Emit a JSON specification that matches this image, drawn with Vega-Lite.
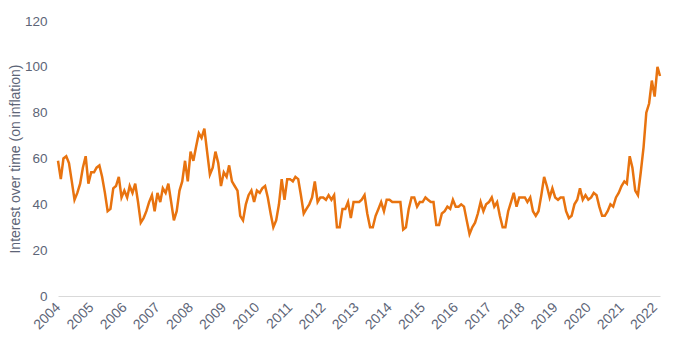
{
  "$schema": "https://vega.github.io/schema/vega-lite/v6.json",
  "width": 602,
  "height": 275,
  "autosize": {"type": "none"},
  "padding": {"left": 58, "top": 21, "right": 20, "bottom": 51},
  "background": "white",
  "config": {"view": {"stroke": null}, "font": "Liberation Sans"},
  "data": {"values": [
    {"date":"2004-01-01","v":59},{"date":"2004-02-01","v":51},{"date":"2004-03-01","v":60},{"date":"2004-04-01","v":61},{"date":"2004-05-01","v":58},{"date":"2004-06-01","v":50},{"date":"2004-07-01","v":42},{"date":"2004-08-01","v":45},{"date":"2004-09-01","v":49},{"date":"2004-10-01","v":56},{"date":"2004-11-01","v":61},{"date":"2004-12-01","v":49},
    {"date":"2005-01-01","v":54},{"date":"2005-02-01","v":54},{"date":"2005-03-01","v":56},{"date":"2005-04-01","v":57},{"date":"2005-05-01","v":52},{"date":"2005-06-01","v":45},{"date":"2005-07-01","v":37},{"date":"2005-08-01","v":38},{"date":"2005-09-01","v":47},{"date":"2005-10-01","v":48},{"date":"2005-11-01","v":52},{"date":"2005-12-01","v":43},
    {"date":"2006-01-01","v":46},{"date":"2006-02-01","v":43},{"date":"2006-03-01","v":48},{"date":"2006-04-01","v":45},{"date":"2006-05-01","v":49},{"date":"2006-06-01","v":41},{"date":"2006-07-01","v":32},{"date":"2006-08-01","v":34},{"date":"2006-09-01","v":37},{"date":"2006-10-01","v":41},{"date":"2006-11-01","v":44},{"date":"2006-12-01","v":37},
    {"date":"2007-01-01","v":45},{"date":"2007-02-01","v":41},{"date":"2007-03-01","v":47},{"date":"2007-04-01","v":45},{"date":"2007-05-01","v":49},{"date":"2007-06-01","v":41},{"date":"2007-07-01","v":33},{"date":"2007-08-01","v":37},{"date":"2007-09-01","v":46},{"date":"2007-10-01","v":50},{"date":"2007-11-01","v":59},{"date":"2007-12-01","v":50},
    {"date":"2008-01-01","v":63},{"date":"2008-02-01","v":59},{"date":"2008-03-01","v":65},{"date":"2008-04-01","v":71},{"date":"2008-05-01","v":69},{"date":"2008-06-01","v":73},{"date":"2008-07-01","v":63},{"date":"2008-08-01","v":53},{"date":"2008-09-01","v":56},{"date":"2008-10-01","v":63},{"date":"2008-11-01","v":58},{"date":"2008-12-01","v":48},
    {"date":"2009-01-01","v":54},{"date":"2009-02-01","v":52},{"date":"2009-03-01","v":57},{"date":"2009-04-01","v":50},{"date":"2009-05-01","v":48},{"date":"2009-06-01","v":46},{"date":"2009-07-01","v":35},{"date":"2009-08-01","v":33},{"date":"2009-09-01","v":40},{"date":"2009-10-01","v":44},{"date":"2009-11-01","v":46},{"date":"2009-12-01","v":41},
    {"date":"2010-01-01","v":46},{"date":"2010-02-01","v":45},{"date":"2010-03-01","v":47},{"date":"2010-04-01","v":48},{"date":"2010-05-01","v":43},{"date":"2010-06-01","v":36},{"date":"2010-07-01","v":30},{"date":"2010-08-01","v":33},{"date":"2010-09-01","v":40},{"date":"2010-10-01","v":51},{"date":"2010-11-01","v":42},{"date":"2010-12-01","v":51},
    {"date":"2011-01-01","v":51},{"date":"2011-02-01","v":50},{"date":"2011-03-01","v":52},{"date":"2011-04-01","v":51},{"date":"2011-05-01","v":44},{"date":"2011-06-01","v":36},{"date":"2011-07-01","v":38},{"date":"2011-08-01","v":40},{"date":"2011-09-01","v":43},{"date":"2011-10-01","v":50},{"date":"2011-11-01","v":41},{"date":"2011-12-01","v":43},
    {"date":"2012-01-01","v":43},{"date":"2012-02-01","v":42},{"date":"2012-03-01","v":44},{"date":"2012-04-01","v":42},{"date":"2012-05-01","v":44},{"date":"2012-06-01","v":30},{"date":"2012-07-01","v":30},{"date":"2012-08-01","v":38},{"date":"2012-09-01","v":38},{"date":"2012-10-01","v":41},{"date":"2012-11-01","v":34},{"date":"2012-12-01","v":41},
    {"date":"2013-01-01","v":41},{"date":"2013-02-01","v":41},{"date":"2013-03-01","v":42},{"date":"2013-04-01","v":44},{"date":"2013-05-01","v":36},{"date":"2013-06-01","v":30},{"date":"2013-07-01","v":30},{"date":"2013-08-01","v":35},{"date":"2013-09-01","v":38},{"date":"2013-10-01","v":41},{"date":"2013-11-01","v":37},{"date":"2013-12-01","v":42},
    {"date":"2014-01-01","v":42},{"date":"2014-02-01","v":41},{"date":"2014-03-01","v":41},{"date":"2014-04-01","v":41},{"date":"2014-05-01","v":41},{"date":"2014-06-01","v":29},{"date":"2014-07-01","v":30},{"date":"2014-08-01","v":38},{"date":"2014-09-01","v":43},{"date":"2014-10-01","v":43},{"date":"2014-11-01","v":39},{"date":"2014-12-01","v":41},
    {"date":"2015-01-01","v":41},{"date":"2015-02-01","v":43},{"date":"2015-03-01","v":42},{"date":"2015-04-01","v":41},{"date":"2015-05-01","v":41},{"date":"2015-06-01","v":31},{"date":"2015-07-01","v":31},{"date":"2015-08-01","v":36},{"date":"2015-09-01","v":37},{"date":"2015-10-01","v":39},{"date":"2015-11-01","v":38},{"date":"2015-12-01","v":42},
    {"date":"2016-01-01","v":39},{"date":"2016-02-01","v":39},{"date":"2016-03-01","v":40},{"date":"2016-04-01","v":39},{"date":"2016-05-01","v":33},{"date":"2016-06-01","v":27},{"date":"2016-07-01","v":30},{"date":"2016-08-01","v":32},{"date":"2016-09-01","v":36},{"date":"2016-10-01","v":41},{"date":"2016-11-01","v":37},{"date":"2016-12-01","v":40},
    {"date":"2017-01-01","v":41},{"date":"2017-02-01","v":43},{"date":"2017-03-01","v":39},{"date":"2017-04-01","v":41},{"date":"2017-05-01","v":35},{"date":"2017-06-01","v":30},{"date":"2017-07-01","v":30},{"date":"2017-08-01","v":37},{"date":"2017-09-01","v":41},{"date":"2017-10-01","v":45},{"date":"2017-11-01","v":39},{"date":"2017-12-01","v":43},
    {"date":"2018-01-01","v":43},{"date":"2018-02-01","v":43},{"date":"2018-03-01","v":41},{"date":"2018-04-01","v":43},{"date":"2018-05-01","v":37},{"date":"2018-06-01","v":35},{"date":"2018-07-01","v":37},{"date":"2018-08-01","v":44},{"date":"2018-09-01","v":52},{"date":"2018-10-01","v":48},{"date":"2018-11-01","v":43},{"date":"2018-12-01","v":47},
    {"date":"2019-01-01","v":43},{"date":"2019-02-01","v":42},{"date":"2019-03-01","v":43},{"date":"2019-04-01","v":43},{"date":"2019-05-01","v":37},{"date":"2019-06-01","v":34},{"date":"2019-07-01","v":35},{"date":"2019-08-01","v":40},{"date":"2019-09-01","v":42},{"date":"2019-10-01","v":47},{"date":"2019-11-01","v":42},{"date":"2019-12-01","v":44},
    {"date":"2020-01-01","v":42},{"date":"2020-02-01","v":43},{"date":"2020-03-01","v":45},{"date":"2020-04-01","v":44},{"date":"2020-05-01","v":39},{"date":"2020-06-01","v":35},{"date":"2020-07-01","v":35},{"date":"2020-08-01","v":37},{"date":"2020-09-01","v":40},{"date":"2020-10-01","v":39},{"date":"2020-11-01","v":43},{"date":"2020-12-01","v":45},
    {"date":"2021-01-01","v":48},{"date":"2021-02-01","v":50},{"date":"2021-03-01","v":49},{"date":"2021-04-01","v":61},{"date":"2021-05-01","v":56},{"date":"2021-06-01","v":46},{"date":"2021-07-01","v":44},{"date":"2021-08-01","v":54},{"date":"2021-09-01","v":65},{"date":"2021-10-01","v":80},{"date":"2021-11-01","v":84},{"date":"2021-12-01","v":94},
    {"date":"2022-01-01","v":87},{"date":"2022-02-01","v":100},{"date":"2022-03-01","v":96}
  ]},
  "mark": {"type": "line", "color": "#E8730F", "strokeWidth": 2.5, "strokeJoin": "miter"},
  "encoding": {
    "x": {
      "field": "date",
      "type": "temporal",
      "scale": {"type": "utc", "domain": ["2004-01-01", "2022-03-01"], "nice": false},
      "axis": {
        "title": null,
        "format": "%Y",
        "tickCount": {"interval": "year", "step": 1},
        "labelAngle": -45,
        "labelAlign": "right",
        "labelBaseline": "middle",
        "labelFontSize": 14,
        "labelColor": "#5d6577",
        "labelPadding": 9,
        "labelOverlap": false,
        "labelFlush": false,
        "ticks": false,
        "grid": false,
        "domainColor": "#d9d9d9",
        "domainWidth": 1,
        "offset": 0
      }
    },
    "y": {
      "field": "v",
      "type": "quantitative",
      "scale": {"domain": [0, 120], "nice": false},
      "axis": {
        "title": "Interest over time (on inflation)",
        "titleFontSize": 14,
        "titleFontWeight": "normal",
        "titleColor": "#5d6577",
        "titlePadding": 2,
        "values": [0, 20, 40, 60, 80, 100, 120],
        "labelFontSize": 13.5,
        "labelColor": "#5d6577",
        "labelPadding": 11,
        "ticks": false,
        "domain": false,
        "grid": false
      }
    }
  }
}
